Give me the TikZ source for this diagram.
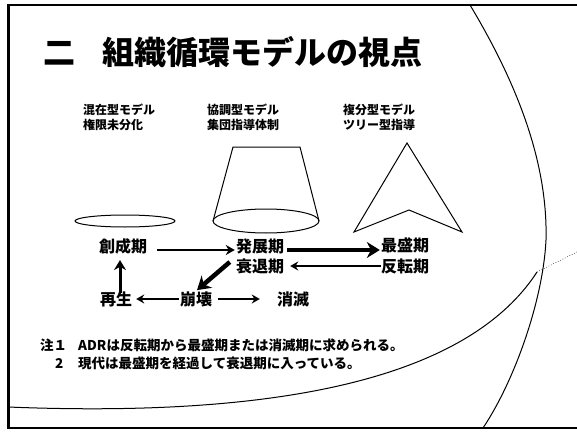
\documentclass[tikz,border=0pt]{standalone}
\usepackage{fontspec}
\setmainfont{Noto Sans CJK JP}
\usetikzlibrary{arrows.meta}
\tikzset{
  lbl/.style={inner sep=0pt, font=\fontsize{16}{18}\selectfont\bfseries},
  hdr/.style={inner sep=0pt, align=left, font=\fontsize{12}{15}\selectfont\bfseries},
  note/.style={inner sep=0pt, anchor=west, font=\fontsize{13.5}{16}\selectfont\bfseries},
  shp/.style={line width=1pt},
  amid/.style={line width=2.3pt, -{Stealth[length=9pt,width=10pt]}},
  athick/.style={line width=4.5pt, -{Stealth[length=13pt,width=16pt]}},
  athin/.style={line width=1.8pt, -{Stealth[length=8pt,width=9pt]}},
}
\begin{document}
\begin{tikzpicture}[x=1pt,y=-1pt]
\useasboundingbox (0,0) rectangle (577,433);
% frame
\draw[line width=1.5pt] (577,5) -- (8,5) -- (8,428) -- (577,428);
\draw[line width=3pt] (8,5) -- (8,428);
% big curves
\draw[line width=1pt] (470,5) .. controls (515,80) and (548,160) .. (546,240)
  .. controls (543,300) and (515,380) .. (483,428);
\draw[line width=1pt] (8,407) .. controls (330,420) and (480,360) .. (537,272);
\draw[line width=0.6pt, dotted] (537,272) -- (577,252);
% title
\node[inner sep=0pt, anchor=west, font=\fontsize{32}{36}\selectfont\bfseries] (title) at (43,52) {二\hspace{0.85em}組織循環モデルの視点};
% headers
\node[hdr, anchor=west] (h1) at (83,117) {混在型モデル\\権限未分化};
\node[hdr, anchor=west] (h2) at (207,117) {協調型モデル\\集団指導体制};
\node[hdr, anchor=west] (h3) at (343,117) {複分型モデル\\ツリー型指導};
% shapes
\draw[shp] (125,221) ellipse [x radius=50, y radius=6];
\draw[shp] (266,221) ellipse [x radius=53, y radius=12];
\draw[shp] (213,221) -- (233,147) -- (300,147) -- (319,221);
\draw[shp] (354,232) -- (407,143) -- (462,232) -- (409,210) -- cycle;
% stage labels
\node[lbl] (sousei) at (123,246) {創成期};
\node[lbl] (hatten) at (260,246) {発展期};
\node[lbl] (suitai) at (260,266) {衰退期};
\node[lbl] (saisei) at (405,245) {最盛期};
\node[lbl] (hanten) at (405,266) {反転期};
\node[lbl] (sai) at (116,299) {再生};
\node[lbl] (houkai) at (196,299) {崩壊};
\node[lbl] (shoumetsu) at (293,299) {消滅};
% arrows
\draw[amid] ([xshift=10pt,yshift=-4pt]sousei.east) -- ([xshift=-1pt,yshift=-4pt]hatten.west);
\draw[athick] ([xshift=3pt,yshift=-4pt]hatten.east) -- ([xshift=-1pt,yshift=-5pt]saisei.west);
\draw[athin] (hanten.west) -- ([xshift=6pt]suitai.east);
\draw[athick] ([xshift=-6pt,yshift=4pt]suitai.west) -- ([xshift=1pt,yshift=1pt]houkai.north);
\draw[athin] ([xshift=-1pt]houkai.west) -- ([xshift=4pt]sai.east);
\draw[athin] ([xshift=6pt]houkai.east) -- ([xshift=-17pt]shoumetsu.west);
\draw[line width=3pt, -{Stealth[length=10pt,width=12pt]}] ([xshift=4pt,yshift=-2pt]sai.north) -- ([xshift=-3pt,yshift=-6pt]sousei.south);
% notes
\node[note] (n1a) at (40,345) {注１};
\node[note] (n1) at (78,345) {ADRは反転期から最盛期または消滅期に求められる。};
\node[note] (n2a) at (55,363) {2};
\node[note] (n2) at (78,363) {現代は最盛期を経過して衰退期に入っている。};
\end{tikzpicture}
\end{document}
